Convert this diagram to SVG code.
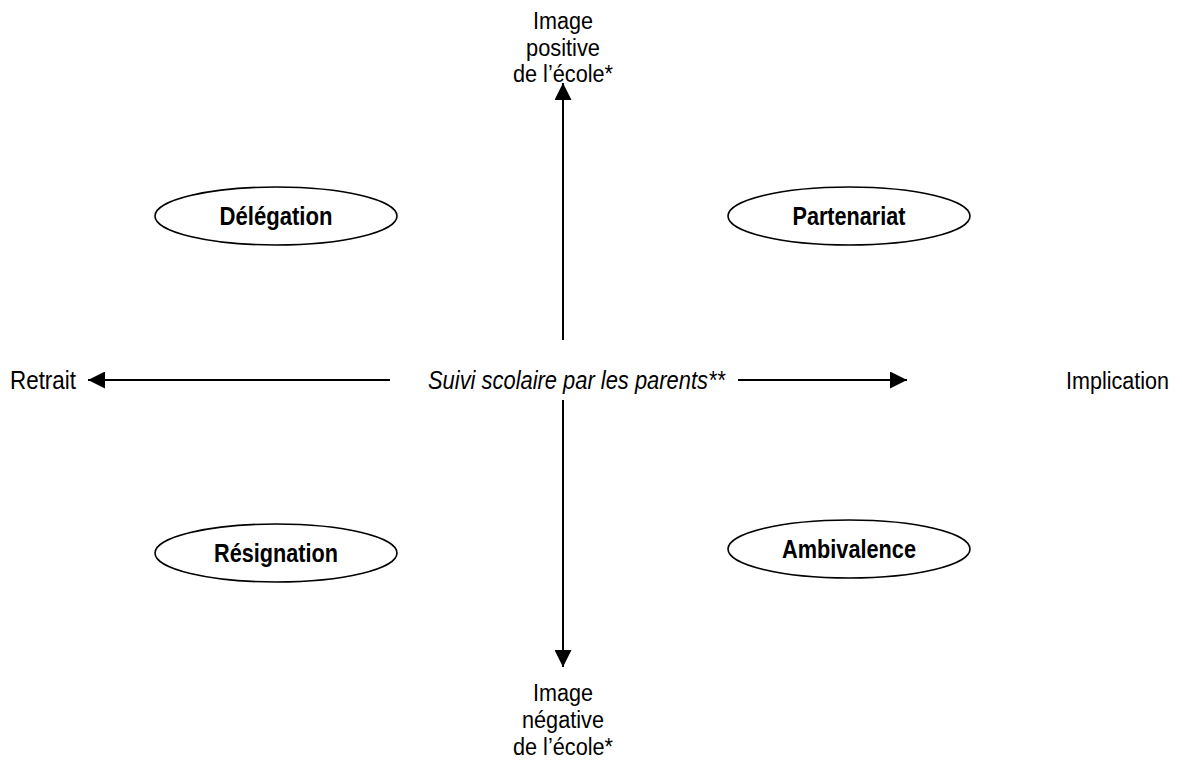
<svg xmlns="http://www.w3.org/2000/svg" width="1182" height="765" viewBox="0 0 1182 765">
<defs>
<style>
text{font-family:"Liberation Sans Narrow","Liberation Sans",Arial,sans-serif;font-size:26px;fill:#000}
.s{font-size:23px}
.b{font-weight:bold}
.i{font-style:italic}
.ell{fill:#fff;stroke:#000;stroke-width:1.6}
.ax{stroke:#000;stroke-width:2;fill:none}
</style>
<marker id="ah" viewBox="0 0 10 10" refX="10" refY="5" markerWidth="17" markerHeight="17" markerUnits="userSpaceOnUse" orient="auto">
<path d="M0,0 L10,5 L0,10 z" fill="#000"/>
</marker>
</defs>
<rect width="1182" height="765" fill="#fff"/>
<g id="connectors">
<line class="ax" x1="563" y1="340" x2="563" y2="83" marker-end="url(#ah)"/>
<line class="ax" x1="563" y1="400" x2="563" y2="667" marker-end="url(#ah)"/>
<line class="ax" x1="390" y1="380" x2="88" y2="380" marker-end="url(#ah)"/>
<line class="ax" x1="738" y1="380" x2="907" y2="380" marker-end="url(#ah)"/>
</g>
<g id="top-label" text-anchor="middle">
<text class="s" x="563" y="29" textLength="60" lengthAdjust="spacingAndGlyphs">Image</text>
<text class="s" x="563" y="56" textLength="74" lengthAdjust="spacingAndGlyphs">positive</text>
<text class="s" x="563" y="82" textLength="100" lengthAdjust="spacingAndGlyphs">de l’école*</text>
</g>
<g id="bottom-label" text-anchor="middle">
<text class="s" x="563" y="701" textLength="60" lengthAdjust="spacingAndGlyphs">Image</text>
<text class="s" x="563" y="728" textLength="82" lengthAdjust="spacingAndGlyphs">négative</text>
<text class="s" x="563" y="755" textLength="100" lengthAdjust="spacingAndGlyphs">de l’école*</text>
</g>
<g id="left-label"><text x="10" y="389" textLength="66" lengthAdjust="spacingAndGlyphs">Retrait</text></g>
<g id="right-label"><text class="s" x="1066" y="389" textLength="103" lengthAdjust="spacingAndGlyphs">Implication</text></g>
<g id="center-label"><text class="i" x="428" y="389" textLength="297" lengthAdjust="spacingAndGlyphs">Suivi scolaire par les parents**</text></g>
<g id="delegation">
<ellipse class="ell" cx="276" cy="216" rx="121" ry="29"/>
<text class="b" x="276" y="225" text-anchor="middle" textLength="113" lengthAdjust="spacingAndGlyphs">Délégation</text>
</g>
<g id="partenariat">
<ellipse class="ell" cx="849" cy="216" rx="121" ry="29"/>
<text class="b" x="849" y="225" text-anchor="middle" textLength="113" lengthAdjust="spacingAndGlyphs">Partenariat</text>
</g>
<g id="resignation">
<ellipse class="ell" cx="276" cy="553" rx="121" ry="29"/>
<text class="b" x="276" y="562" text-anchor="middle" textLength="124" lengthAdjust="spacingAndGlyphs">Résignation</text>
</g>
<g id="ambivalence">
<ellipse class="ell" cx="849" cy="549" rx="121" ry="29"/>
<text class="b" x="849" y="558" text-anchor="middle" textLength="134" lengthAdjust="spacingAndGlyphs">Ambivalence</text>
</g>
</svg>
